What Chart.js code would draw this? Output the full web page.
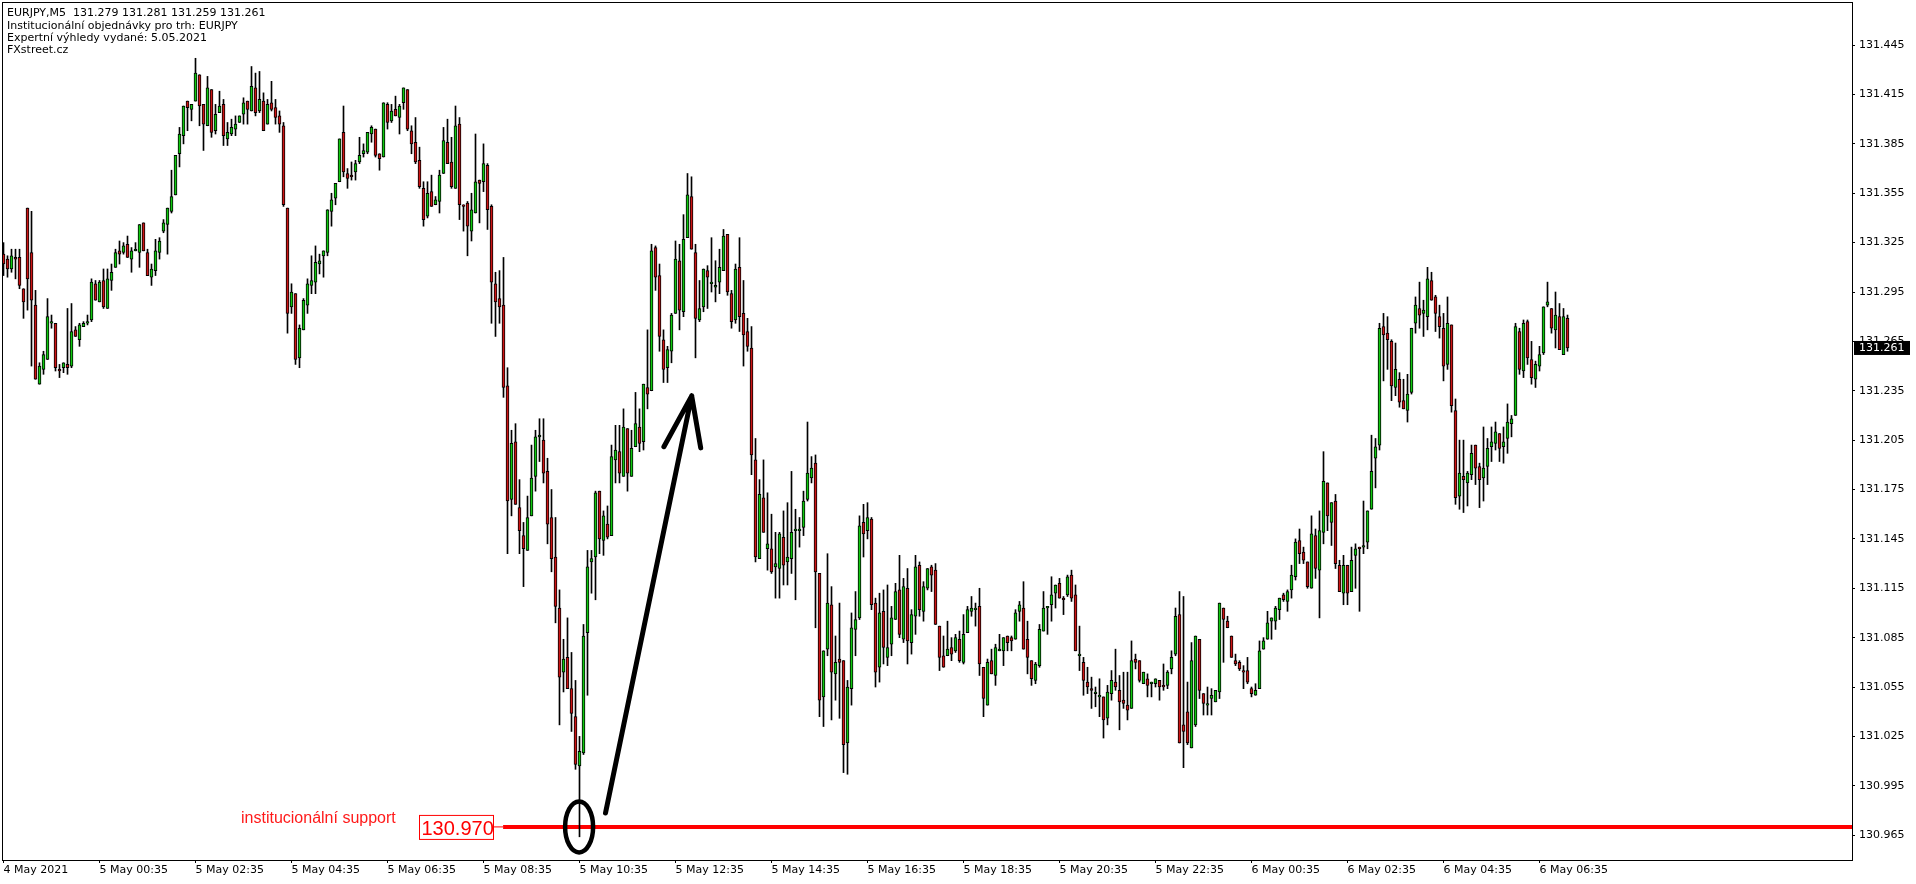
<!DOCTYPE html>
<html>
<head>
<meta charset="utf-8">
<title>EURJPY M5</title>
<script src="https://cdn.jsdelivr.net/npm/chart.js@4"></script>
<style>
html, body { margin: 0; padding: 0; background: #fff; overflow: hidden; }
canvas { display: block; }
</style>
</head>
<body>
<canvas id="chart" width="1916" height="884"></canvas>
<script>
// M5 candles. Quotes are in points above 130.000
var basePrice = 130;

var highs = [
1325,1317,1321,1321,1321,1297,1346,1344,1296,1252,1259,1291,1281,1276,1251,1252,1285,1288,1274,1276,
1277,1281,1303,1302,1302,1309,1309,1312,1321,1326,1325,1329,1322,1325,1336,1337,1321,1312,1327,1328,
1339,1346,1369,1378,1395,1408,1411,1409,1437,1427,1409,1426,1418,1409,1417,1412,1398,1400,1402,1402,
1413,1411,1432,1428,1429,1416,1412,1423,1412,1405,1398,1346,1300,1294,1275,1291,1303,1317,1323,1318,
1320,1345,1355,1361,1388,1408,1370,1374,1375,1389,1385,1392,1396,1394,1379,1410,1410,1409,1414,1409,
1419,1418,1396,1401,1383,1362,1362,1366,1353,1369,1395,1400,1389,1408,1401,1348,1350,1355,1391,1363,
1385,1373,1348,1307,1308,1316,1249,1211,1215,1181,1155,1171,1202,1211,1218,1218,1194,1175,1158,1114,
1084,1097,1076,1059,1025,1093,1138,1138,1174,1174,1162,1165,1202,1214,1214,1224,1212,1211,1234,1224,
1239,1272,1324,1323,1312,1272,1262,1282,1326,1324,1342,1367,1365,1324,1302,1309,1311,1328,1314,1321,
1333,1330,1296,1312,1328,1302,1279,1274,1206,1181,1193,1173,1160,1149,1149,1162,1167,1186,1163,1158,
1174,1216,1195,1196,1124,1077,1136,1116,1086,1106,1071,1059,1100,1113,1159,1166,1167,1158,1109,1112,
1114,1117,1104,1118,1135,1121,1127,1102,1135,1131,1119,1127,1129,1130,1092,1086,1095,1085,1087,1089,
1099,1104,1110,1106,1115,1067,1072,1078,1081,1087,1085,1086,1086,1102,1107,1119,1095,1071,1070,1093,
1113,1104,1122,1117,1121,1110,1123,1126,1117,1092,1073,1067,1061,1055,1060,1049,1056,1065,1078,1062,
1064,1064,1083,1075,1071,1064,1063,1058,1060,1059,1069,1065,1077,1103,1113,1110,1058,1082,1086,1084,
1051,1055,1054,1053,1106,1103,1098,1086,1075,1071,1068,1073,1055,1057,1083,1085,1101,1097,1104,1109,
1112,1114,1129,1145,1151,1140,1131,1159,1151,1162,1198,1179,1167,1172,1132,1135,1129,1140,1142,1140,
1168,1162,1208,1206,1276,1282,1280,1266,1264,1246,1242,1245,1273,1292,1301,1290,1310,1307,1293,1287,
1282,1292,1275,1230,1205,1205,1186,1202,1202,1191,1213,1206,1213,1216,1209,1213,1227,1220,1276,1273,
1278,1278,1265,1253,1262,1286,1301,1285,1295,1288,1285,1281
];

var lows = [
1305,1304,1307,1303,1297,1279,1284,1250,1242,1239,1245,1254,1273,1247,1243,1246,1245,1249,1268,1262,
1274,1275,1277,1290,1289,1285,1285,1296,1310,1312,1318,1316,1307,1320,1310,1320,1305,1299,1305,1315,
1331,1318,1343,1354,1371,1385,1393,1399,1411,1396,1381,1396,1389,1391,1404,1384,1384,1390,1390,1398,
1397,1397,1405,1402,1404,1393,1397,1405,1397,1392,1347,1270,1282,1251,1249,1272,1282,1294,1294,1306,
1304,1317,1335,1348,1362,1365,1358,1363,1363,1373,1377,1379,1386,1377,1369,1377,1394,1398,1402,1391,
1406,1393,1379,1373,1358,1335,1340,1347,1348,1343,1367,1373,1358,1358,1339,1332,1317,1326,1343,1337,
1356,1333,1276,1268,1276,1231,1136,1159,1166,1136,1116,1138,1159,1174,1192,1179,1142,1125,1094,1032,
1052,1054,1028,1005,964,1014,1050,1112,1108,1136,1135,1145,1147,1179,1179,1183,1174,1183,1201,1198,
1199,1224,1235,1296,1259,1240,1240,1252,1282,1272,1280,1328,1321,1255,1277,1283,1285,1295,1289,1294,
1308,1293,1273,1276,1271,1250,1259,1184,1131,1133,1149,1126,1124,1109,1109,1117,1117,1124,1108,1140,
1147,1168,1179,1091,1037,1031,1074,1035,1047,1036,1003,1002,1044,1074,1096,1134,1145,1102,1055,1058,
1069,1068,1074,1096,1085,1082,1069,1075,1087,1098,1095,1114,1113,1093,1065,1067,1074,1071,1076,1070,
1069,1088,1098,1092,1062,1037,1044,1063,1056,1077,1068,1077,1077,1084,1095,1078,1063,1056,1057,1067,
1089,1087,1095,1103,1109,1099,1110,1107,1077,1065,1050,1051,1042,1043,1037,1024,1032,1047,1053,1029,
1042,1035,1042,1066,1058,1057,1049,1049,1055,1047,1053,1054,1063,1074,1021,1006,1020,1018,1031,1048,
1038,1038,1038,1046,1048,1070,1091,1073,1068,1065,1054,1057,1049,1050,1054,1078,1084,1084,1090,1096,
1107,1101,1109,1120,1130,1130,1115,1115,1121,1097,1142,1150,1141,1127,1113,1105,1105,1113,1115,1101,
1136,1139,1163,1176,1199,1241,1248,1229,1232,1225,1224,1216,1233,1270,1273,1268,1272,1290,1271,1267,
1241,1248,1222,1166,1163,1161,1165,1181,1178,1164,1168,1178,1192,1199,1192,1191,1197,1207,1220,1245,
1243,1251,1239,1237,1247,1257,1286,1270,1261,1260,1257,1259
];

var opens = [
1318,1315,1309,1316,1316,1297,1346,1319,1287,1239,1248,1254,1276,1276,1248,1249,1251,1250,1272,1266,
1274,1276,1278,1300,1289,1302,1285,1302,1310,1320,1319,1324,1315,1320,1319,1337,1319,1304,1308,1319,
1332,1336,1344,1354,1379,1390,1411,1406,1411,1427,1409,1396,1418,1393,1404,1409,1388,1391,1394,1398,
1403,1411,1405,1419,1405,1411,1397,1410,1407,1402,1396,1346,1286,1294,1255,1272,1287,1299,1301,1312,
1317,1319,1344,1352,1362,1392,1367,1366,1368,1374,1379,1380,1391,1394,1379,1377,1409,1399,1406,1401,
1410,1418,1393,1386,1375,1358,1341,1356,1348,1350,1367,1386,1374,1358,1397,1348,1349,1332,1343,1363,
1362,1372,1347,1300,1291,1287,1238,1169,1204,1164,1147,1138,1159,1183,1207,1205,1186,1158,1134,1103,
1064,1073,1054,1037,1007,1015,1088,1131,1134,1174,1144,1154,1147,1193,1198,1183,1212,1183,1201,1213,
1204,1237,1235,1322,1305,1266,1249,1259,1282,1314,1283,1328,1353,1319,1278,1286,1308,1300,1298,1301,
1308,1330,1294,1278,1310,1282,1271,1261,1193,1133,1170,1139,1139,1128,1127,1146,1131,1133,1150,1150,
1152,1169,1182,1191,1124,1049,1078,1105,1063,1072,1071,1021,1054,1090,1097,1155,1150,1157,1106,1067,
1101,1073,1081,1096,1114,1084,1115,1082,1098,1129,1101,1115,1128,1126,1092,1074,1074,1079,1077,1084,
1070,1088,1101,1102,1104,1067,1044,1071,1062,1077,1077,1086,1085,1084,1101,1103,1084,1071,1059,1068,
1089,1103,1105,1112,1118,1109,1111,1123,1111,1074,1070,1058,1054,1051,1049,1049,1036,1051,1058,1053,
1047,1044,1042,1072,1071,1057,1060,1057,1057,1059,1056,1056,1066,1075,1099,1032,1040,1018,1032,1084,
1051,1044,1048,1046,1052,1103,1095,1086,1071,1070,1065,1065,1054,1050,1054,1078,1084,1095,1095,1102,
1111,1107,1114,1122,1144,1137,1131,1115,1147,1126,1149,1179,1155,1168,1129,1112,1129,1113,1135,1140,
1140,1143,1163,1194,1202,1274,1270,1265,1237,1242,1229,1223,1234,1276,1285,1282,1280,1302,1292,1280,
1273,1251,1275,1223,1171,1183,1179,1184,1202,1189,1182,1189,1201,1203,1209,1201,1206,1215,1220,1271,
1247,1277,1254,1242,1250,1258,1287,1285,1272,1280,1257,1279
];

var closes = [
1312,1309,1317,1315,1299,1289,1303,1290,1242,1250,1257,1280,1277,1249,1247,1252,1249,1271,1268,1275,
1276,1277,1301,1290,1301,1286,1303,1307,1319,1318,1323,1316,1320,1321,1336,1320,1305,1309,1320,1326,
1337,1346,1353,1378,1391,1408,1407,1409,1428,1408,1397,1419,1392,1403,1408,1390,1392,1395,1397,1402,
1410,1406,1420,1404,1412,1393,1409,1406,1401,1397,1348,1282,1295,1254,1273,1290,1300,1302,1313,1314,
1320,1345,1351,1361,1388,1368,1364,1365,1373,1378,1381,1392,1395,1378,1376,1410,1398,1405,1402,1408,
1419,1394,1385,1374,1359,1339,1355,1347,1351,1366,1387,1373,1359,1396,1348,1347,1335,1345,1362,1361,
1373,1345,1301,1289,1286,1237,1168,1203,1166,1150,1139,1158,1182,1207,1208,1185,1154,1133,1104,1061,
1072,1054,1039,1008,1016,1086,1128,1133,1173,1145,1159,1146,1195,1199,1185,1213,1185,1200,1215,1203,
1239,1233,1320,1304,1268,1248,1260,1281,1315,1284,1327,1354,1321,1279,1285,1309,1304,1301,1299,1310,
1329,1295,1277,1309,1280,1269,1262,1196,1134,1172,1149,1142,1125,1130,1148,1129,1134,1149,1151,1151,
1168,1185,1188,1125,1047,1077,1106,1064,1070,1070,1020,1055,1091,1096,1153,1148,1158,1105,1064,1100,
1079,1079,1097,1113,1087,1116,1083,1099,1128,1102,1116,1127,1123,1093,1073,1067,1078,1075,1085,1071,
1087,1102,1103,1103,1069,1048,1070,1063,1079,1078,1085,1082,1083,1100,1105,1078,1073,1060,1069,1090,
1103,1104,1111,1117,1109,1108,1122,1109,1077,1075,1059,1055,1053,1052,1050,1035,1052,1059,1055,1046,
1045,1041,1071,1070,1059,1064,1056,1058,1060,1055,1055,1064,1073,1098,1021,1028,1021,1071,1086,1053,
1045,1045,1050,1053,1106,1096,1091,1073,1069,1066,1064,1058,1051,1053,1077,1083,1094,1097,1103,1109,
1108,1113,1123,1143,1136,1132,1116,1148,1127,1150,1180,1159,1167,1130,1113,1129,1112,1132,1139,1139,
1141,1162,1186,1201,1273,1269,1266,1238,1248,1228,1224,1233,1273,1287,1281,1284,1303,1290,1282,1274,
1250,1276,1226,1170,1185,1181,1185,1197,1188,1181,1188,1200,1204,1210,1200,1204,1216,1218,1274,1248,
1276,1255,1243,1251,1257,1286,1289,1273,1281,1260,1280,1261
];

var timeTickLabels = ['4 May 2021', '5 May 00:35', '5 May 02:35', '5 May 04:35', '5 May 06:35', '5 May 08:35',
  '5 May 10:35', '5 May 12:35', '5 May 14:35', '5 May 16:35', '5 May 18:35', '5 May 20:35', '5 May 22:35',
  '6 May 00:35', '6 May 02:35', '6 May 04:35', '6 May 06:35'];
var barsPerTimeTick = 24;
var priceTicks = [131.445, 131.415, 131.385, 131.355, 131.325, 131.295, 131.265, 131.235, 131.205, 131.175,
  131.145, 131.115, 131.085, 131.055, 131.025, 130.995, 130.965];

var supportPrice = 130.970;
var lastPrice = 131.261;
var headerLines = ['EURJPY,M5  131.279 131.281 131.259 131.261', 'Institucionální objednávky pro trh: EURJPY',
  'Expertní výhledy vydané: 5.05.2021', 'FXstreet.cz'];

// hand drawn marks, in bar index / price
var arrowTail = [150.5, 130.9785];
var arrowTip = [172.05, 131.2319];
var arrowBarbs = [[165.1, 131.201], [174.3, 131.2003]];
var circleAt = [143.9, 130.970];

function price(points) { return basePrice + points / 1000; }

var wickData = highs.map(function (h, i) { return { x: i, y: [price(lows[i]), price(h)] }; });
var bodyData = opens.map(function (o, i) { return { x: i, y: [price(o), price(closes[i])] }; });
var bodyColors = opens.map(function (o, i) { return closes[i] >= o ? '#0fc80f' : '#cc1414'; });

var FONT = '"DejaVu Sans"';

function noScalePadding(s) {
  s.paddingTop = 0;
  s.paddingBottom = 0;
  s.paddingLeft = 0;
  s.paddingRight = 0;
}

var overlay = {
  id: 'overlay',
  afterDatasetsDraw: function (chart) {
    var c = chart.ctx, a = chart.chartArea, x = chart.scales.x, y = chart.scales.y;
    function px(p) { return [x.getPixelForValue(p[0]), y.getPixelForValue(p[1])]; }

    // frame
    c.save();
    c.strokeStyle = '#000';
    c.lineWidth = 1;
    c.strokeRect(a.left + 0.5, a.top + 0.5, a.right - a.left, a.bottom - a.top);

    // circle on the low
    var ctr = px(circleAt);
    c.lineWidth = 4.5;
    c.beginPath();
    c.ellipse(ctr[0], ctr[1], 14, 25.5, 0, 0, Math.PI * 2);
    c.stroke();

    // arrow
    var tail = px(arrowTail), tip = px(arrowTip);
    c.lineWidth = 5;
    c.lineCap = 'round';
    c.beginPath();
    c.moveTo(tail[0], tail[1]);
    c.lineTo(tip[0], tip[1]);
    arrowBarbs.forEach(function (b) {
      var p = px(b);
      c.moveTo(p[0], p[1]);
      c.lineTo(tip[0], tip[1]);
    });
    c.stroke();

    // support label
    var sy = y.getPixelForValue(supportPrice);
    c.fillStyle = '#fff';
    c.fillRect(419.5, sy - 11.5, 74, 24);
    c.strokeStyle = '#ff0000';
    c.lineWidth = 1;
    c.strokeRect(419.5, sy - 11.5, 74, 24);
    c.fillStyle = '#ff0000';
    c.textBaseline = 'alphabetic';
    c.textAlign = 'left';
    c.font = '20px "Liberation Sans"';
    c.fillText(supportPrice.toFixed(3), 421.5, sy + 8);
    c.fillStyle = '#ff1a1a';
    c.font = '16px "Liberation Sans"';
    c.fillText('institucionální support', 241, sy - 4);

    // header
    c.fillStyle = '#000';
    c.font = '11px ' + FONT;
    c.textBaseline = 'middle';
    var lineY = [13, 26, 38, 50];
    headerLines.forEach(function (t, i) { c.fillText(t, 7, lineY[i]); });

    // last price tag, hides the tick under it
    var ly = y.getPixelForValue(lastPrice);
    c.fillStyle = '#000';
    c.fillRect(a.right + 2, ly - 7, 56, 14);
    c.fillStyle = '#fff';
    c.fillText(lastPrice.toFixed(3), a.right + 7, ly + 0.5);
    c.restore();
  }
};

new Chart(document.getElementById('chart'), {
  type: 'bar',
  data: {
    datasets: [
      {
        label: 'body',
        data: bodyData,
        order: 1,
        grouped: false,
        barThickness: 3,
        backgroundColor: bodyColors,
        borderColor: '#000',
        borderWidth: 1,
        borderSkipped: false
      },
      {
        label: 'wick',
        data: wickData,
        order: 2,
        grouped: false,
        barThickness: 1,
        backgroundColor: '#000',
        borderWidth: 0
      },
      {
        type: 'line',
        label: 'support',
        data: [{ x: 124.9, y: supportPrice }, { x: 462.125, y: supportPrice }],
        order: 3,
        borderColor: '#ff0000',
        borderWidth: 4,
        pointRadius: 0
      },
      {
        type: 'line',
        label: 'support lead',
        data: [{ x: 122.6, y: supportPrice }, { x: 124.9, y: supportPrice }],
        order: 3,
        borderColor: '#ff0000',
        borderWidth: 1,
        pointRadius: 0
      }
    ]
  },
  options: {
    responsive: false,
    animation: false,
    events: [],
    layout: { autoPadding: false, padding: { left: 2, top: 2, right: 0, bottom: 0 } },
    plugins: { legend: { display: false }, tooltip: { enabled: false } },
    scales: {
      x: {
        type: 'linear',
        offset: false,
        min: -0.375,
        max: 462.125,
        afterFit: function (s) { s.height = 24; noScalePadding(s); },
        afterBuildTicks: function (s) {
          s.ticks = timeTickLabels.map(function (t, i) { return { value: i * barsPerTimeTick }; });
        },
        grid: { drawOnChartArea: false, drawTicks: true, tickLength: 3, color: '#000', offset: false },
        border: { display: false },
        ticks: {
          autoSkip: false,
          maxRotation: 0,
          align: 'start',
          padding: 1,
          color: '#000',
          font: { family: FONT, size: 11 },
          callback: function (v) { return timeTickLabels[v / barsPerTimeTick]; }
        }
      },
      y: {
        position: 'right',
        min: 130.9499,
        max: 131.4712,
        afterFit: function (s) { s.width = 64; noScalePadding(s); },
        afterBuildTicks: function (s) {
          s.ticks = priceTicks.map(function (v) { return { value: v }; });
        },
        grid: { drawOnChartArea: false, drawTicks: true, tickLength: 3, color: '#000' },
        border: { display: false },
        ticks: {
          autoSkip: false,
          padding: 4,
          color: '#000',
          font: { family: FONT, size: 11 },
          callback: function (v) { return v.toFixed(3); }
        }
      }
    }
  },
  plugins: [overlay]
});
</script>
</body>
</html>
